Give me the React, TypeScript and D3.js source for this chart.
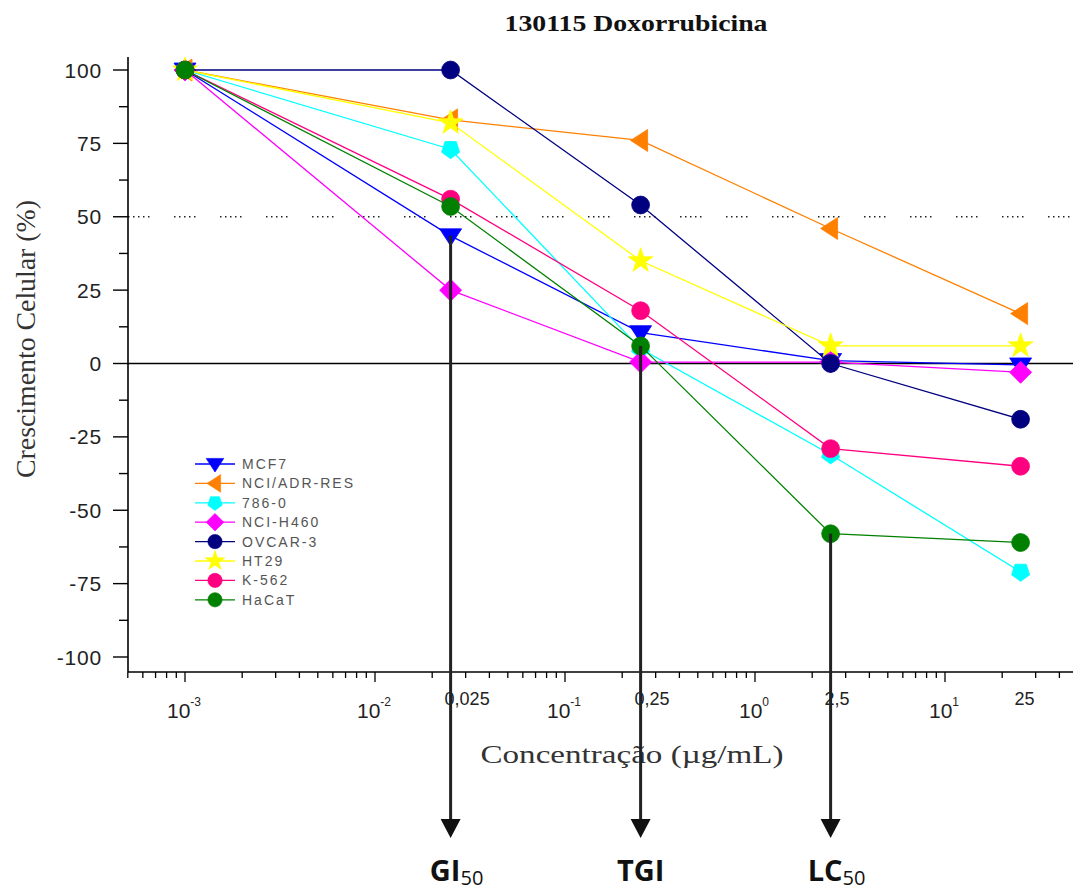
import React from 'react';
import * as d3 from 'd3';

// concentrations in ug/mL
const concentrations = [0.001, 0.025, 0.25, 2.5, 25];

const seriesNames = ['MCF7', 'NCI/ADR-RES', '786-0', 'NCI-H460', 'OVCAR-3', 'HT29', 'K-562', 'HaCaT'];
const mcf7 = [100, 43.5, 10.5, 1, -0.5];
const nciAdr = [100, 83, 76, 46, 17];
const c7860 = [100, 73, 5, -31, -71];
const nciH460 = [100, 25, 0.5, 0.5, -3];
const ovcar3 = [100, 100, 54, 0, -19];
const ht29 = [100, 82, 35, 6, 6];
const k562 = [100, 56, 18, -29, -35];
const hacat = [100, 53.5, 6, -58, -61];
const seriesValues = [mcf7, nciAdr, c7860, nciH460, ovcar3, ht29, k562, hacat];

const colors = ['#0000ff', '#ff8000', '#00ffff', '#ff00ff', '#000080', '#ffff00', '#ff0080', '#008000'];
const markerKinds = ['triDown', 'triLeft', 'pentagon', 'diamond', 'circle', 'star', 'circle', 'circle'];

const yTicks = [100, 75, 50, 25, 0, -25, -50, -75, -100];
const yMinor = [87.5, 62.5, 37.5, 12.5, -12.5, -37.5, -62.5, -87.5];
const decadeExps = [-3, -2, -1, 0, 1];
const concLabels = ['0,025', '0,25', '2,5', '25'];

// endpoint arrows: label, subscript, series index, concentration index
const endpointLabels = ['GI', 'TGI', 'LC'];
const endpointSubs = ['50', '', '50'];
const endpointSeries = [0, 7, 7];
const endpointIdx = [1, 2, 3];

const W = 1075;
const H = 895;
const left = 128;
const right = 1073;
const axisBottom = 672;

const x = d3.scaleLog().domain([Math.pow(10, -3.3), Math.pow(10, 1.6737)]).range([left, right]);
const y = d3.scaleLinear().domain([-100, 100]).range([657, 70]);

const polygon = (r: number, n: number, rot: number) => {
  const pts = d3.range(n).map(i => {
    const a = (i * 2 * Math.PI) / n + rot;
    return [r * Math.cos(a), r * Math.sin(a)];
  });
  return 'M' + pts.map(p => p.join(',')).join('L') + 'Z';
};

const markerPath = (kind: string) => {
  if (kind === 'triDown') return 'M-11,-7L11,-7L0,10Z';
  if (kind === 'triLeft') return 'M7,-11L7,11L-10,0Z';
  if (kind === 'diamond') return 'M0,-11L11,0L0,11L-11,0Z';
  if (kind === 'star') return d3.symbol(d3.symbolStar, 190)() as string;
  if (kind === 'pentagon') return polygon(9.5, 5, Math.PI / 2);
  return d3.symbol(d3.symbolCircle, 250)() as string;
};

const Marker = ({ kind, color, cx, cy }: { kind: string; color: string; cx: number; cy: number }) => (
  <path
    d={markerPath(kind)}
    transform={`translate(${cx},${cy})`}
    fill={color}
    stroke={color}
    strokeWidth={0.8}
  />
);

export default function App() {
  const line = d3
    .line<number>()
    .x((_, i) => x(concentrations[i]))
    .y(d => y(d));

  const minorX: number[] = [];
  for (let e = -4; e <= 1; e++) {
    for (let k = 2; k <= 9; k++) {
      const v = k * Math.pow(10, e);
      if (x(v) >= left - 0.5 && x(v) <= right) minorX.push(v);
    }
  }

  const sans = '"Liberation Sans", Arial, sans-serif';
  const serif = '"Liberation Serif", "Times New Roman", serif';

  return (
    <svg width={W} height={H} style={{ position: 'absolute', left: 0, top: 0, background: '#fff' }}>
      <rect width={W} height={H} fill="#fff" />

      <text x={636} y={31} textAnchor="middle" fontFamily={serif} fontWeight="bold" fontSize={23}
        textLength={263} lengthAdjust="spacingAndGlyphs" fill="#111">
        130115 Doxorrubicina
      </text>

      {/* 50% reference line */}
      <line x1={left} x2={right} y1={y(50)} y2={y(50)} stroke="#222" strokeWidth={1.5}
        strokeDasharray="1.5,3.5,1.5,3.5,1.5,3.5,1.5,3.5,1.5,24.5" />
      {/* zero line */}
      <line x1={left} x2={right} y1={y(0)} y2={y(0)} stroke="#000" strokeWidth={1.3} />

      {/* y axis */}
      <line x1={left} x2={left} y1={57} y2={axisBottom} stroke="#000" strokeWidth={1.6} />
      {yTicks.map(t => (
        <g key={t}>
          <line x1={left - 15} x2={left} y1={y(t)} y2={y(t)} stroke="#000" strokeWidth={1.4} />
          <text x={102} y={y(t) + 7.5} textAnchor="end" fontFamily={sans} fontSize={21} letterSpacing={0.8} fill="#222">{t}</text>
        </g>
      ))}
      {yMinor.map(t => (
        <line key={t} x1={left - 9} x2={left} y1={y(t)} y2={y(t)} stroke="#000" strokeWidth={1.4} />
      ))}
      <text transform={`translate(35,339) rotate(-90)`} textAnchor="middle" fontFamily={serif} fontSize={27}
        fill="#333" textLength={278} lengthAdjust="spacingAndGlyphs">
        Crescimento Celular (%)
      </text>

      {/* x axis */}
      <line x1={left} x2={right} y1={axisBottom} y2={axisBottom} stroke="#000" strokeWidth={1.6} />
      {decadeExps.map(e => (
        <g key={e}>
          <line x1={x(Math.pow(10, e))} x2={x(Math.pow(10, e))} y1={axisBottom} y2={axisBottom + 10} stroke="#000" strokeWidth={1.3} />
          <text x={x(Math.pow(10, e)) - 1} y={718} textAnchor="middle" fontFamily={sans} fontSize={21} fill="#222">
            10
            <tspan dy={-12} fontSize={12}>{e}</tspan>
          </text>
        </g>
      ))}
      {minorX.map(v => (
        <line key={v} x1={x(v)} x2={x(v)} y1={axisBottom} y2={axisBottom + 6} stroke="#000" strokeWidth={1.3} />
      ))}
      {concLabels.map((l, i) => (
        <text key={l} x={x(concentrations[i + 1]) - 6} y={705} fontFamily={sans} fontSize={18} fill="#222">{l}</text>
      ))}
      <text x={632} y={763} textAnchor="middle" fontFamily={serif} fontSize={26} fill="#333"
        textLength={303} lengthAdjust="spacingAndGlyphs">
        Concentração (µg/mL)
      </text>

      {/* series */}
      {seriesValues.map((vals, si) => (
        <g key={seriesNames[si]}>
          <path d={line(vals) as string} fill="none" stroke={colors[si]} strokeWidth={1.3} />
          {vals.map((v, i) => (
            <Marker key={i} kind={markerKinds[si]} color={colors[si]} cx={x(concentrations[i])} cy={y(v)} />
          ))}
        </g>
      ))}

      {/* endpoint arrows */}
      {endpointLabels.map((lab, k) => {
        const cx = x(concentrations[endpointIdx[k]]);
        const cy = y(seriesValues[endpointSeries[k]][endpointIdx[k]]);
        const tip = 838;
        return (
          <g key={lab}>
            <line x1={cx} x2={cx} y1={cy} y2={tip - 16} stroke="#222" strokeWidth={3} />
            <path d={`M${cx - 10},${tip - 19}L${cx + 10},${tip - 19}L${cx},${tip}Z`} fill="#111" />
            <text x={cx + (endpointSubs[k] ? 6 : 0)} y={881} textAnchor="middle" fontFamily='"Open Sans", sans-serif'
              fontWeight="bold" fontSize={29} fill="#111">
              {lab}
              {endpointSubs[k] && (
                <tspan dy={4} fontSize={20} fontWeight="normal">{endpointSubs[k]}</tspan>
              )}
            </text>
          </g>
        );
      })}

      {/* legend */}
      {seriesNames.map((n, i) => {
        const ly = 464 + i * 19.4;
        return (
          <g key={n}>
            <line x1={195} x2={235} y1={ly} y2={ly} stroke={colors[i]} strokeWidth={1.3} />
            <g transform={`translate(215,${ly}) scale(0.8)`}>
              <Marker kind={markerKinds[i]} color={colors[i]} cx={0} cy={0} />
            </g>
            <text x={242} y={ly + 5} fontFamily={sans} fontSize={14} letterSpacing={2} fill="#555">{n}</text>
          </g>
        );
      })}
    </svg>
  );
}
